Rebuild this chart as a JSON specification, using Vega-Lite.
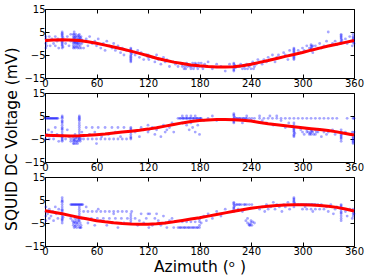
{
"$schema": "https://vega.github.io/schema/vega-lite/v6.json",
"padding": {"left": 4, "top": 3, "right": 10, "bottom": 2},
"title": {"text": "SQUID DC Voltage (mV)", "orient": "left", "anchor": "middle", "fontSize": 15.5, "font": "DejaVu Sans", "fontWeight": "normal", "color": "black", "offset": 3},
"config": {
  "font": "DejaVu Sans",
  "view": {"stroke": "black", "strokeWidth": 1},
  "axis": {"grid": false, "domain": false, "tickColor": "black", "tickSize": -4, "labelFontSize": 10, "labelColor": "black", "labelPadding": 4, "labelFlush": false, "labelBound": false, "labelOverlap": false, "titleFontWeight": "normal", "titleFontSize": 15.5, "titleColor": "black", "titleFont": "DejaVu Sans"}
},
"bounds": "flush",
"spacing": 15,
"datasets": {
"fit1": [{"az":0,"mv":1.3},{"az":10,"mv":1.5},{"az":20,"mv":1.6},{"az":30,"mv":1.5},{"az":40,"mv":1.3},{"az":50,"mv":0.8},{"az":60,"mv":0.1},{"az":70,"mv":-0.7},{"az":80,"mv":-1.5},{"az":90,"mv":-2.4},{"az":100,"mv":-3.3},{"az":110,"mv":-4.3},{"az":120,"mv":-5.3},{"az":130,"mv":-6.4},{"az":140,"mv":-7.3},{"az":150,"mv":-8.1},{"az":160,"mv":-8.7},{"az":170,"mv":-9.3},{"az":180,"mv":-9.7},{"az":190,"mv":-10.0},{"az":200,"mv":-10.2},{"az":210,"mv":-10.2},{"az":220,"mv":-10.1},{"az":230,"mv":-9.7},{"az":240,"mv":-9.0},{"az":250,"mv":-8.2},{"az":260,"mv":-7.4},{"az":270,"mv":-6.5},{"az":280,"mv":-5.6},{"az":290,"mv":-4.8},{"az":300,"mv":-3.9},{"az":310,"mv":-2.9},{"az":320,"mv":-2.0},{"az":330,"mv":-1.1},{"az":340,"mv":-0.3},{"az":350,"mv":0.5},{"az":360,"mv":1.3}],
"fit2": [{"az":0,"mv":-3.4},{"az":10,"mv":-3.5},{"az":20,"mv":-3.6},{"az":30,"mv":-3.7},{"az":40,"mv":-3.6},{"az":50,"mv":-3.4},{"az":60,"mv":-3.1},{"az":70,"mv":-2.8},{"az":80,"mv":-2.4},{"az":90,"mv":-2.0},{"az":100,"mv":-1.6},{"az":110,"mv":-1.2},{"az":120,"mv":-0.7},{"az":130,"mv":-0.1},{"az":140,"mv":0.6},{"az":150,"mv":1.3},{"az":160,"mv":2.0},{"az":170,"mv":2.6},{"az":180,"mv":3.0},{"az":190,"mv":3.3},{"az":200,"mv":3.5},{"az":210,"mv":3.5},{"az":220,"mv":3.4},{"az":230,"mv":3.2},{"az":240,"mv":2.8},{"az":250,"mv":2.2},{"az":260,"mv":1.6},{"az":270,"mv":1.2},{"az":280,"mv":0.8},{"az":290,"mv":0.3},{"az":300,"mv":-0.1},{"az":310,"mv":-0.5},{"az":320,"mv":-0.9},{"az":330,"mv":-1.3},{"az":340,"mv":-1.9},{"az":350,"mv":-2.6},{"az":360,"mv":-3.3}],
"fit3": [{"az":0,"mv":0.3},{"az":10,"mv":-0.3},{"az":20,"mv":-1.0},{"az":30,"mv":-1.8},{"az":40,"mv":-2.6},{"az":50,"mv":-3.3},{"az":60,"mv":-4.0},{"az":70,"mv":-4.5},{"az":80,"mv":-4.9},{"az":90,"mv":-5.2},{"az":100,"mv":-5.4},{"az":110,"mv":-5.5},{"az":120,"mv":-5.5},{"az":130,"mv":-5.3},{"az":140,"mv":-5.0},{"az":150,"mv":-4.5},{"az":160,"mv":-3.9},{"az":170,"mv":-3.3},{"az":180,"mv":-2.7},{"az":190,"mv":-2.0},{"az":200,"mv":-1.3},{"az":210,"mv":-0.6},{"az":220,"mv":0.1},{"az":230,"mv":0.8},{"az":240,"mv":1.4},{"az":250,"mv":1.9},{"az":260,"mv":2.3},{"az":270,"mv":2.6},{"az":280,"mv":2.8},{"az":290,"mv":2.9},{"az":300,"mv":2.9},{"az":310,"mv":2.8},{"az":320,"mv":2.6},{"az":330,"mv":2.3},{"az":340,"mv":1.8},{"az":350,"mv":1.1},{"az":360,"mv":0.2}],
"pts1": [{"az":1,"mv":-2},{"az":1,"mv":0},{"az":1,"mv":2},{"az":1,"mv":3},{"az":2,"mv":-1},{"az":2,"mv":1},{"az":5,"mv":3},{"az":6,"mv":-1},{"az":8,"mv":2},{"az":10,"mv":0},{"az":12,"mv":-1},{"az":12,"mv":3},{"az":14,"mv":1},{"az":15,"mv":2},{"az":16,"mv":-2},
{"az":20,"mv":-2},{"az":20,"mv":-1},{"az":20,"mv":0},{"az":20,"mv":1},{"az":20,"mv":2},{"az":20,"mv":3},{"az":20,"mv":4},{"az":20,"mv":5},{"az":21,"mv":-1.5},{"az":21,"mv":2.5},{"az":20,"mv":-0.5},{"az":20,"mv":0.5},{"az":20,"mv":1.5},{"az":20,"mv":3.5},{"az":20,"mv":4.5},
{"az":24,"mv":0},{"az":26,"mv":3},{"az":28,"mv":-1},{"az":30,"mv":1},{"az":30,"mv":4},
{"az":33,"mv":-2},{"az":33,"mv":-1},{"az":33,"mv":0},{"az":33,"mv":1},{"az":33,"mv":2},{"az":33,"mv":3},{"az":33,"mv":4},{"az":34,"mv":5},{"az":35,"mv":-2},{"az":35,"mv":0},{"az":35,"mv":1},{"az":35,"mv":2},{"az":35,"mv":3},{"az":36,"mv":-1},{"az":36,"mv":4},{"az":37,"mv":0},{"az":37,"mv":2},{"az":38,"mv":-2},{"az":38,"mv":1},{"az":38,"mv":3},{"az":39,"mv":-1},{"az":39,"mv":0},{"az":40,"mv":-2},{"az":40,"mv":1},{"az":40,"mv":2},{"az":40,"mv":4},{"az":41,"mv":0},{"az":42,"mv":-2},{"az":42,"mv":2},{"az":42,"mv":3},{"az":43,"mv":0},{"az":44,"mv":1},{"az":45,"mv":-2},
{"az":34,"mv":-1.5},{"az":34,"mv":0.5},{"az":34,"mv":2.5},{"az":36,"mv":1.5},{"az":36,"mv":3},{"az":37,"mv":-1.5},{"az":39,"mv":2},{"az":39,"mv":3.5},{"az":41,"mv":2.5},{"az":41,"mv":-1},{"az":43,"mv":1.5},{"az":34,"mv":4},{"az":38,"mv":0},{"az":40,"mv":3},{"az":36,"mv":0.5},
{"az":48,"mv":2},{"az":50,"mv":-1},{"az":52,"mv":3},{"az":55,"mv":0},{"az":58,"mv":1},{"az":60,"mv":-1},{"az":62,"mv":2},{"az":65,"mv":-2},{"az":68,"mv":0},{"az":70,"mv":-3},{"az":72,"mv":1},{"az":75,"mv":-1},{"az":78,"mv":-2},{"az":80,"mv":0},{"az":82,"mv":-3},{"az":85,"mv":-1},{"az":88,"mv":-4},{"az":90,"mv":-2},{"az":92,"mv":-5},{"az":95,"mv":-3},
{"az":100,"mv":-2},{"az":100,"mv":-3},{"az":100,"mv":-4},{"az":100,"mv":-5},{"az":100,"mv":-6},{"az":100,"mv":-7},{"az":100,"mv":-8},{"az":101,"mv":-4.5},{"az":100,"mv":-2.5},{"az":100,"mv":-3.5},{"az":100,"mv":-5.5},{"az":100,"mv":-6.5},{"az":100,"mv":-7.5},
{"az":105,"mv":-5},{"az":108,"mv":-3},{"az":110,"mv":-6},{"az":112,"mv":-4},{"az":115,"mv":-7},{"az":118,"mv":-5},{"az":120,"mv":-5},{"az":120,"mv":-6},{"az":121,"mv":-7},{"az":122,"mv":-5.5},{"az":125,"mv":-6},{"az":128,"mv":-8},{"az":130,"mv":-5},{"az":132,"mv":-7},{"az":135,"mv":-9},{"az":138,"mv":-6},{"az":140,"mv":-8},{"az":142,"mv":-7},{"az":145,"mv":-10},
{"az":150,"mv":-8},{"az":152,"mv":-9},{"az":155,"mv":-10},{"az":158,"mv":-8.5},{"az":160,"mv":-9},{"az":162,"mv":-11},{"az":165,"mv":-8.5},{"az":166,"mv":-10},{"az":168,"mv":-9.5},{"az":170,"mv":-11},{"az":172,"mv":-8.5},{"az":174,"mv":-10},{"az":176,"mv":-9},{"az":178,"mv":-11},{"az":180,"mv":-10},{"az":182,"mv":-8.5},{"az":184,"mv":-11},{"az":186,"mv":-9},{"az":188,"mv":-10},{"az":190,"mv":-8},{"az":195,"mv":-11},{"az":200,"mv":-9},{"az":205,"mv":-10},{"az":210,"mv":-12},{"az":215,"mv":-9},
{"az":160,"mv":-10},{"az":163,"mv":-10},{"az":169,"mv":-10},{"az":171,"mv":-10},{"az":177,"mv":-10},{"az":179,"mv":-8.5},{"az":183,"mv":-10},{"az":175,"mv":-8.5},{"az":164,"mv":-11},{"az":173,"mv":-11},
{"az":220,"mv":-9},{"az":220,"mv":-10},{"az":220,"mv":-11},{"az":220,"mv":-12},{"az":221,"mv":-9.5},{"az":222,"mv":-10.5},{"az":220,"mv":-8.5},{"az":220,"mv":-11.5},
{"az":225,"mv":-10},{"az":228,"mv":-9},{"az":230,"mv":-11},{"az":232,"mv":-10},{"az":235,"mv":-9},{"az":236,"mv":-11},{"az":238,"mv":-10},{"az":240,"mv":-9},{"az":240,"mv":-11},{"az":242,"mv":-8},{"az":244,"mv":-10},{"az":246,"mv":-9},{"az":248,"mv":-7},{"az":250,"mv":-8},{"az":253,"mv":-9},
{"az":227,"mv":-10},{"az":230,"mv":-9.5},{"az":233,"mv":-11},{"az":237,"mv":-9.5},{"az":243,"mv":-11},
{"az":255,"mv":-7},{"az":258,"mv":-8},{"az":260,"mv":-6},{"az":263,"mv":-7},{"az":265,"mv":-5},{"az":268,"mv":-8},{"az":270,"mv":-6},{"az":272,"mv":-5},{"az":275,"mv":-6},{"az":278,"mv":-4},{"az":280,"mv":-5},{"az":283,"mv":-7},{"az":285,"mv":-3},
{"az":290,"mv":-2},{"az":290,"mv":-3},{"az":290,"mv":-4},{"az":290,"mv":-5},{"az":290,"mv":-6},{"az":290,"mv":-7},{"az":291,"mv":-4.5},{"az":290,"mv":-2.5},{"az":290,"mv":-3.5},{"az":290,"mv":-5.5},{"az":290,"mv":-6.5},
{"az":295,"mv":-3},{"az":298,"mv":-4},{"az":300,"mv":-2},{"az":302,"mv":-3},{"az":305,"mv":-1},{"az":308,"mv":-2},{"az":310,"mv":-1},{"az":310,"mv":-2},{"az":310,"mv":-3},{"az":311,"mv":-1.5},{"az":312,"mv":-4},{"az":315,"mv":-1},{"az":318,"mv":-2},{"az":320,"mv":0},{"az":322,"mv":-2},{"az":325,"mv":-1},{"az":328,"mv":1},{"az":330,"mv":5},{"az":332,"mv":-1},{"az":335,"mv":0},{"az":338,"mv":1},{"az":340,"mv":-0.5},
{"az":310,"mv":-2.5},{"az":310,"mv":-0.5},{"az":312,"mv":-1},
{"az":345,"mv":0},{"az":345,"mv":1},{"az":345,"mv":2},{"az":345,"mv":3},{"az":345,"mv":4},{"az":346,"mv":1.5},{"az":345,"mv":0.5},{"az":345,"mv":2.5},{"az":345,"mv":3.5},
{"az":350,"mv":2},{"az":352,"mv":0},{"az":355,"mv":3},{"az":358,"mv":-1},{"az":359,"mv":1},{"az":359,"mv":2},{"az":359,"mv":3},{"az":359,"mv":4},{"az":360,"mv":0},{"az":359,"mv":1.5},{"az":359,"mv":2.5},{"az":359,"mv":0.5}],
"pts2": [{"az":1,"mv":4},{"az":3,"mv":4},{"az":5,"mv":4},{"az":7,"mv":4},{"az":9,"mv":4},{"az":11,"mv":4},{"az":13,"mv":4},{"az":15,"mv":4},{"az":2,"mv":4},{"az":4,"mv":4},{"az":6,"mv":4},{"az":8,"mv":4},{"az":10,"mv":4},{"az":12,"mv":4},{"az":14,"mv":4},
{"az":1,"mv":-5},{"az":2,"mv":-3},{"az":4,"mv":-1},{"az":5,"mv":-5},{"az":8,"mv":-2},{"az":10,"mv":-5},{"az":12,"mv":0},{"az":14,"mv":-3},{"az":16,"mv":-6},
{"az":20,"mv":-6},{"az":20,"mv":-5},{"az":20,"mv":-4},{"az":20,"mv":-3},{"az":20,"mv":-2},{"az":20,"mv":-1},{"az":20,"mv":0},{"az":20,"mv":1},{"az":20,"mv":2},{"az":20,"mv":3},{"az":20,"mv":4},{"az":20,"mv":5},
{"az":20,"mv":-5.5},{"az":20,"mv":-4.5},{"az":20,"mv":-3.5},{"az":20,"mv":-0.5},{"az":20,"mv":2.5},{"az":20,"mv":4.5},
{"az":24,"mv":-5},{"az":26,"mv":-1},{"az":28,"mv":-4},{"az":30,"mv":-5},{"az":30,"mv":-6},
{"az":33,"mv":-4},{"az":33,"mv":-5},{"az":33,"mv":-6},{"az":33,"mv":-7},{"az":35,"mv":-3},{"az":35,"mv":-5},{"az":35,"mv":-6},{"az":36,"mv":-7},{"az":37,"mv":-4},{"az":38,"mv":-5},{"az":38,"mv":-6},{"az":38,"mv":-7},
{"az":34,"mv":-5.5},{"az":36,"mv":-4.5},{"az":37,"mv":-6},{"az":34,"mv":-7},
{"az":40,"mv":-5},{"az":40,"mv":-4},{"az":40,"mv":-3},{"az":40,"mv":-2},{"az":40,"mv":-1},{"az":40,"mv":0},{"az":40,"mv":1},{"az":40,"mv":2},{"az":40,"mv":3},{"az":40,"mv":4},{"az":40,"mv":5},{"az":41,"mv":-6},{"az":42,"mv":-5},{"az":43,"mv":-2},
{"az":40,"mv":-4.5},{"az":40,"mv":-5.5},{"az":40,"mv":3.5},{"az":40,"mv":4.5},
{"az":45,"mv":-5},{"az":50,"mv":-5},{"az":55,"mv":-5},{"az":60,"mv":-5},{"az":65,"mv":-5},{"az":70,"mv":-5},{"az":75,"mv":-5},{"az":80,"mv":-5},{"az":85,"mv":-5},{"az":90,"mv":-5},{"az":95,"mv":-5},{"az":48,"mv":0},{"az":55,"mv":0},{"az":62,"mv":0},{"az":70,"mv":0},{"az":78,"mv":0},{"az":85,"mv":0},{"az":92,"mv":0},{"az":52,"mv":-3},{"az":58,"mv":-2},{"az":66,"mv":-4},{"az":74,"mv":-3},{"az":82,"mv":-2},{"az":88,"mv":-4},{"az":60,"mv":-7},
{"az":100,"mv":-5},{"az":100,"mv":-4},{"az":100,"mv":-3},{"az":100,"mv":-2},{"az":100,"mv":-1},{"az":100,"mv":0},{"az":100,"mv":-4.5},{"az":100,"mv":-0.5},
{"az":105,"mv":-2},{"az":110,"mv":-4},{"az":112,"mv":0},{"az":115,"mv":-1},{"az":120,"mv":1},{"az":120,"mv":-2},{"az":121,"mv":-1},{"az":125,"mv":0},{"az":128,"mv":-3},{"az":130,"mv":-1},{"az":132,"mv":0},{"az":135,"mv":-4},{"az":138,"mv":1},{"az":140,"mv":-2},{"az":142,"mv":-1},{"az":145,"mv":0},{"az":148,"mv":2},{"az":150,"mv":-2},
{"az":155,"mv":4},{"az":158,"mv":4},{"az":160,"mv":4},{"az":162,"mv":4},{"az":164,"mv":4},{"az":166,"mv":4},{"az":168,"mv":4},{"az":170,"mv":4},{"az":172,"mv":4},{"az":174,"mv":4},{"az":176,"mv":4},{"az":178,"mv":4},{"az":180,"mv":4},{"az":182,"mv":4},
{"az":157,"mv":4},{"az":161,"mv":4},{"az":165,"mv":4},{"az":169,"mv":4},{"az":173,"mv":4},{"az":177,"mv":4},{"az":181,"mv":4},
{"az":160,"mv":5},{"az":165,"mv":5},{"az":170,"mv":5},{"az":175,"mv":5},{"az":160,"mv":2},{"az":165,"mv":1},{"az":168,"mv":-1},{"az":170,"mv":2},{"az":172,"mv":0},{"az":175,"mv":-2},{"az":178,"mv":1},{"az":180,"mv":-3},{"az":185,"mv":3},{"az":190,"mv":4},{"az":195,"mv":5},{"az":200,"mv":3},
{"az":220,"mv":2},{"az":220,"mv":3},{"az":220,"mv":4},{"az":220,"mv":5},{"az":220,"mv":6},{"az":221,"mv":4.5},{"az":220,"mv":2.5},{"az":220,"mv":3.5},{"az":220,"mv":5.5},
{"az":223,"mv":4},{"az":226,"mv":4},{"az":229,"mv":4},{"az":232,"mv":4},{"az":235,"mv":4},{"az":238,"mv":4},{"az":241,"mv":4},{"az":244,"mv":4},{"az":230,"mv":2},{"az":240,"mv":3},{"az":235,"mv":5},
{"az":224,"mv":4},{"az":227,"mv":4},{"az":231,"mv":4},{"az":234,"mv":4},
{"az":250,"mv":4},{"az":255,"mv":4},{"az":260,"mv":4},{"az":265,"mv":4},{"az":270,"mv":4},{"az":275,"mv":4},{"az":280,"mv":4},{"az":285,"mv":4},{"az":250,"mv":5},{"az":258,"mv":2},{"az":262,"mv":5},{"az":266,"mv":1},{"az":270,"mv":5},{"az":275,"mv":3},{"az":280,"mv":0},{"az":284,"mv":2},{"az":253,"mv":3},
{"az":290,"mv":-4},{"az":290,"mv":-3},{"az":290,"mv":-2},{"az":290,"mv":-1},{"az":290,"mv":0},{"az":290,"mv":1},{"az":290,"mv":2},{"az":290,"mv":4},{"az":291,"mv":-2.5},{"az":290,"mv":-3.5},{"az":290,"mv":-1.5},{"az":290,"mv":-0.5},
{"az":295,"mv":4},{"az":300,"mv":4},{"az":305,"mv":4},{"az":310,"mv":4},{"az":315,"mv":4},{"az":320,"mv":4},{"az":325,"mv":4},{"az":330,"mv":4},{"az":335,"mv":4},{"az":340,"mv":4},{"az":298,"mv":-1},{"az":300,"mv":-2},{"az":302,"mv":-3},{"az":305,"mv":-1},{"az":305,"mv":-2},{"az":308,"mv":-3},{"az":310,"mv":-1},{"az":310,"mv":-2},{"az":310,"mv":-3},{"az":312,"mv":-2},{"az":315,"mv":-1},{"az":315,"mv":-3},{"az":318,"mv":-2},{"az":320,"mv":-1},{"az":322,"mv":-4},{"az":325,"mv":-2},{"az":328,"mv":-3},{"az":330,"mv":-2},{"az":335,"mv":-1},{"az":338,"mv":-3},{"az":340,"mv":-2},
{"az":307,"mv":-2},{"az":309,"mv":-2.5},{"az":311,"mv":-1.5},{"az":313,"mv":-3},{"az":316,"mv":-2},
{"az":345,"mv":-1},{"az":345,"mv":-2},{"az":345,"mv":-3},{"az":345,"mv":-4},{"az":345,"mv":-5},{"az":345,"mv":-6},{"az":346,"mv":-2.5},{"az":345,"mv":-3.5},{"az":345,"mv":-4.5},
{"az":350,"mv":-2},{"az":352,"mv":4},{"az":355,"mv":-3},{"az":358,"mv":-2},{"az":359,"mv":4},{"az":359,"mv":-3},{"az":359,"mv":-4},{"az":359,"mv":-5},{"az":359,"mv":-6},{"az":359,"mv":-7},{"az":360,"mv":-2},{"az":360,"mv":4},{"az":359,"mv":-4.5},{"az":359,"mv":-5.5},{"az":359,"mv":-6.5}],
"pts3": [{"az":1,"mv":-4},{"az":1,"mv":-2},{"az":1,"mv":0},{"az":1,"mv":2},{"az":3,"mv":-1},{"az":5,"mv":-3},{"az":5,"mv":1},{"az":7,"mv":-2},{"az":9,"mv":0},{"az":10,"mv":-4},{"az":12,"mv":2},{"az":13,"mv":-1},{"az":15,"mv":-3},{"az":16,"mv":1},
{"az":20,"mv":-5},{"az":20,"mv":-4},{"az":20,"mv":-3},{"az":20,"mv":-2},{"az":20,"mv":-1},{"az":20,"mv":0},{"az":20,"mv":1},{"az":20,"mv":2},{"az":20,"mv":3},{"az":20,"mv":4},{"az":20,"mv":5},{"az":20,"mv":6},{"az":21,"mv":-2.5},{"az":20,"mv":4.5},{"az":20,"mv":-3.5},{"az":20,"mv":0.5},
{"az":30,"mv":3},{"az":32,"mv":3},{"az":34,"mv":3},{"az":36,"mv":3},{"az":38,"mv":3},{"az":40,"mv":3},{"az":42,"mv":3},{"az":44,"mv":3},{"az":31,"mv":3},{"az":33,"mv":3},{"az":35,"mv":3},{"az":37,"mv":3},{"az":39,"mv":3},{"az":41,"mv":3},{"az":43,"mv":3},
{"az":30,"mv":-3},{"az":32,"mv":-4},{"az":33,"mv":-5},{"az":33,"mv":-6},{"az":34,"mv":-7},{"az":35,"mv":-3},{"az":35,"mv":-5},{"az":36,"mv":-4},{"az":36,"mv":-6},{"az":37,"mv":-7},{"az":38,"mv":-3},{"az":38,"mv":-5},{"az":39,"mv":-6},{"az":40,"mv":-4},{"az":40,"mv":-7},{"az":41,"mv":-5},{"az":42,"mv":-6},{"az":42,"mv":-7},{"az":43,"mv":-3},
{"az":34,"mv":-4.5},{"az":37,"mv":-5},{"az":39,"mv":-4},{"az":35,"mv":-6.5},{"az":41,"mv":-7},
{"az":40,"mv":2},{"az":40,"mv":1},{"az":40,"mv":0},{"az":40,"mv":-1},{"az":40,"mv":-2},{"az":40,"mv":-3},
{"az":45,"mv":0},{"az":50,"mv":0},{"az":55,"mv":0},{"az":60,"mv":0},{"az":65,"mv":0},{"az":70,"mv":0},{"az":75,"mv":0},{"az":80,"mv":0},{"az":85,"mv":0},{"az":90,"mv":0},{"az":95,"mv":0},{"az":47,"mv":-3},{"az":54,"mv":-3},{"az":61,"mv":-3},{"az":68,"mv":-3},{"az":75,"mv":-3},{"az":82,"mv":-3},{"az":89,"mv":-3},{"az":96,"mv":-3},{"az":50,"mv":-5},{"az":58,"mv":-6},{"az":65,"mv":-4},{"az":72,"mv":-6},{"az":78,"mv":-5},{"az":85,"mv":-7},{"az":92,"mv":-5},{"az":48,"mv":2},{"az":62,"mv":1},{"az":80,"mv":-1},
{"az":100,"mv":-1},{"az":100,"mv":-2},{"az":100,"mv":-3},{"az":100,"mv":-4},{"az":100,"mv":-5},{"az":101,"mv":0},
{"az":105,"mv":-3},{"az":108,"mv":-6},{"az":110,"mv":-4},{"az":112,"mv":-1},{"az":115,"mv":-5},{"az":118,"mv":-3},{"az":120,"mv":-1},{"az":121,"mv":-7},{"az":122,"mv":-1},{"az":125,"mv":-6},{"az":128,"mv":-3},{"az":130,"mv":-1},{"az":132,"mv":-4},{"az":135,"mv":-6},{"az":138,"mv":-2},{"az":140,"mv":-5},{"az":142,"mv":-7},{"az":145,"mv":-4},{"az":148,"mv":-3},{"az":150,"mv":-7},
{"az":155,"mv":-7},{"az":158,"mv":-7},{"az":160,"mv":-7},{"az":162,"mv":-7},{"az":165,"mv":-7},{"az":168,"mv":-7},{"az":170,"mv":-7},{"az":172,"mv":-7},{"az":175,"mv":-7},{"az":178,"mv":-7},{"az":157,"mv":-7},{"az":163,"mv":-7},{"az":167,"mv":-7},{"az":173,"mv":-7},{"az":177,"mv":-7},
{"az":160,"mv":-4.5},{"az":165,"mv":-4.5},{"az":170,"mv":-4.5},{"az":175,"mv":-4.5},{"az":180,"mv":-4.5},{"az":180,"mv":-3.5},{"az":180,"mv":-6},{"az":180,"mv":-7},{"az":182,"mv":-5},{"az":185,"mv":-2},{"az":188,"mv":-4},{"az":190,"mv":-1},{"az":195,"mv":-3},{"az":200,"mv":0},{"az":205,"mv":-2},{"az":210,"mv":1},
{"az":220,"mv":0},{"az":220,"mv":1},{"az":220,"mv":2},{"az":220,"mv":3},{"az":220,"mv":4},{"az":221,"mv":2.5},{"az":220,"mv":1.5},{"az":220,"mv":3.5},
{"az":223,"mv":3},{"az":226,"mv":3},{"az":229,"mv":3},{"az":232,"mv":3},{"az":235,"mv":3},{"az":238,"mv":3},{"az":241,"mv":3},{"az":225,"mv":1},{"az":230,"mv":0},{"az":224,"mv":3},{"az":227,"mv":3},{"az":233,"mv":3},
{"az":234,"mv":-4},{"az":236,"mv":-5},{"az":238,"mv":-6},{"az":240,"mv":-4},{"az":240,"mv":-5},{"az":241,"mv":-6},{"az":242,"mv":-4.5},{"az":244,"mv":-5},{"az":236,"mv":-3},{"az":238,"mv":-5.5},{"az":239,"mv":-6},
{"az":250,"mv":1},{"az":253,"mv":2},{"az":256,"mv":0},{"az":258,"mv":3},{"az":260,"mv":1},{"az":263,"mv":2},{"az":266,"mv":4},{"az":268,"mv":1},{"az":270,"mv":3},{"az":273,"mv":2},{"az":276,"mv":0},{"az":278,"mv":3},{"az":280,"mv":2},{"az":283,"mv":4},{"az":285,"mv":1},
{"az":290,"mv":2},{"az":290,"mv":3},{"az":290,"mv":4},{"az":290,"mv":5},{"az":290,"mv":6},{"az":291,"mv":3.5},{"az":290,"mv":4.5},{"az":290,"mv":5.5},
{"az":295,"mv":3},{"az":298,"mv":3},{"az":300,"mv":3},{"az":302,"mv":3},{"az":305,"mv":3},{"az":308,"mv":3},{"az":310,"mv":3},{"az":312,"mv":3},{"az":315,"mv":3},{"az":318,"mv":3},{"az":304,"mv":3},{"az":307,"mv":3},{"az":311,"mv":3},{"az":314,"mv":3},
{"az":300,"mv":1},{"az":305,"mv":1},{"az":310,"mv":1},{"az":315,"mv":1},{"az":320,"mv":1},{"az":303,"mv":2},{"az":312,"mv":0},{"az":322,"mv":3},{"az":325,"mv":1},{"az":328,"mv":2},{"az":330,"mv":0},{"az":333,"mv":3},{"az":336,"mv":-1},{"az":338,"mv":1},{"az":340,"mv":2},
{"az":345,"mv":-4},{"az":345,"mv":-3},{"az":345,"mv":-2},{"az":345,"mv":-1},{"az":345,"mv":0},{"az":345,"mv":1},{"az":345,"mv":2},{"az":345,"mv":3},{"az":345,"mv":2.5},{"az":345,"mv":-0.5},
{"az":350,"mv":0},{"az":352,"mv":-2},{"az":355,"mv":1},{"az":358,"mv":-3},{"az":359,"mv":-2},{"az":359,"mv":-1},{"az":359,"mv":0},{"az":359,"mv":1},{"az":360,"mv":-1}]
},
"vconcat": [
{"width": 309, "height": 69,
 "layer": [
  {"data": {"name": "pts1"}, "mark": {"type": "circle", "size": 8, "opacity": 0.35, "color": "#0000ff"},
   "encoding": {"x": {"field": "az", "type": "quantitative", "scale": {"domain": [0, 360], "nice": false}, "axis": {"values": [0,60,120,180,240,300,360], "title": null}},
                "y": {"field": "mv", "type": "quantitative", "scale": {"domain": [-15, 15], "nice": false}, "axis": {"values": [-15,-5,5,15], "title": null}}}},
  {"data": {"name": "fit1"}, "mark": {"type": "line", "color": "#ff0000", "strokeWidth": 3},
   "encoding": {"x": {"field": "az", "type": "quantitative", "axis": {"orient": "top", "labels": false, "values": [0,60,120,180,240,300,360], "title": null}},
                "y": {"field": "mv", "type": "quantitative", "axis": {"orient": "right", "labels": false, "values": [-15,-5,5,15], "title": null}}}}
 ],
 "resolve": {"axis": {"x": "independent", "y": "independent"}}},
{"width": 309, "height": 69,
 "layer": [
  {"data": {"name": "pts2"}, "mark": {"type": "circle", "size": 8, "opacity": 0.35, "color": "#0000ff"},
   "encoding": {"x": {"field": "az", "type": "quantitative", "scale": {"domain": [0, 360], "nice": false}, "axis": {"values": [0,60,120,180,240,300,360], "title": null}},
                "y": {"field": "mv", "type": "quantitative", "scale": {"domain": [-15, 15], "nice": false}, "axis": {"values": [-15,-5,5,15], "title": null}}}},
  {"data": {"name": "fit2"}, "mark": {"type": "line", "color": "#ff0000", "strokeWidth": 3},
   "encoding": {"x": {"field": "az", "type": "quantitative", "axis": {"orient": "top", "labels": false, "values": [0,60,120,180,240,300,360], "title": null}},
                "y": {"field": "mv", "type": "quantitative", "axis": {"orient": "right", "labels": false, "values": [-15,-5,5,15], "title": null}}}}
 ],
 "resolve": {"axis": {"x": "independent", "y": "independent"}}},
{"width": 309, "height": 69,
 "layer": [
  {"data": {"name": "pts3"}, "mark": {"type": "circle", "size": 8, "opacity": 0.35, "color": "#0000ff"},
   "encoding": {"x": {"field": "az", "type": "quantitative", "scale": {"domain": [0, 360], "nice": false}, "axis": {"values": [0,60,120,180,240,300,360], "title": "Azimuth (ᵒ )", "titlePadding": 3}},
                "y": {"field": "mv", "type": "quantitative", "scale": {"domain": [-15, 15], "nice": false}, "axis": {"values": [-15,-5,5,15], "title": null}}}},
  {"data": {"name": "fit3"}, "mark": {"type": "line", "color": "#ff0000", "strokeWidth": 3},
   "encoding": {"x": {"field": "az", "type": "quantitative", "axis": {"orient": "top", "labels": false, "values": [0,60,120,180,240,300,360], "title": null}},
                "y": {"field": "mv", "type": "quantitative", "axis": {"orient": "right", "labels": false, "values": [-15,-5,5,15], "title": null}}}}
 ],
 "resolve": {"axis": {"x": "independent", "y": "independent"}}}
]
}
